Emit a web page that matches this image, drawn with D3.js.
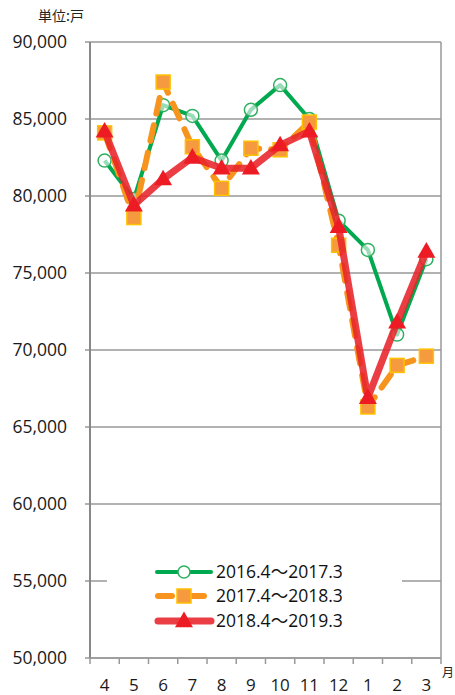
<!DOCTYPE html>
<html>
<head>
<meta charset="utf-8">
<script src="https://cdn.jsdelivr.net/npm/d3@7"></script>
<style>
  body { margin: 0; background: #fff; }
  svg { display: block; font-family: "Open Sans", "Noto Sans CJK JP", sans-serif; }
</style>
</head>
<body>
<div id="chart"></div>
<script>
var months = ["4", "5", "6", "7", "8", "9", "10", "11", "12", "1", "2", "3"];
var yTicks = [50000, 55000, 60000, 65000, 70000, 75000, 80000, 85000, 90000];
var seriesNames = ["2016.4～2017.3", "2017.4～2018.3", "2018.4～2019.3"];
var s2016 = [82300, 79800, 85900, 85200, 82300, 85600, 87200, 85000, 78400, 76500, 71000, 75900];
var s2017 = [84100, 78600, 87400, 83200, 80500, 83100, 83000, 84800, 76800, 66300, 69000, 69600];
var s2018 = [84200, 79400, 81100, 82500, 81800, 81800, 83300, 84200, 78000, 66900, 71800, 76400];

var width = 455, height = 695;
var plotLeft = 90, plotRight = 441, plotTop = 42, plotBottom = 658;

var svg = d3.select("#chart").append("svg")
  .attr("width", width)
  .attr("height", height);

var x = d3.scaleBand().domain(months).range([plotLeft, plotRight]);
var y = d3.scaleLinear().domain([50000, 90000]).range([plotBottom, plotTop]);

// gridlines + y labels
svg.append("g").selectAll("line")
  .data(yTicks)
  .enter().append("line")
  .attr("x1", plotLeft - 5).attr("x2", plotRight)
  .attr("y1", function(d) { return y(d); })
  .attr("y2", function(d) { return y(d); })
  .style("stroke", "#999")
  .style("stroke-width", 1.5);

svg.append("g").selectAll("text")
  .data(yTicks)
  .enter().append("text")
  .attr("x", 67)
  .attr("y", function(d) { return y(d) + 6; })
  .attr("text-anchor", "end")
  .style("font-size", "17.5px")
  .style("fill", "#1a1a1a")
  .text(function(d) { return d3.format(",")(d); });

// axes frame
svg.append("line").attr("x1", plotLeft).attr("x2", plotLeft).attr("y1", plotTop).attr("y2", plotBottom)
  .style("stroke", "#888").style("stroke-width", 2);
svg.append("line").attr("x1", plotRight).attr("x2", plotRight).attr("y1", plotTop).attr("y2", plotBottom)
  .style("stroke", "#999").style("stroke-width", 1.5);
svg.append("line").attr("x1", plotLeft).attr("x2", plotRight).attr("y1", plotBottom).attr("y2", plotBottom)
  .style("stroke", "#999").style("stroke-width", 1.5);

// x ticks between categories
var bounds = months.map(function(m) { return x(m); }).concat([plotRight]);
svg.append("g").selectAll("line")
  .data(bounds)
  .enter().append("line")
  .attr("x1", function(d) { return d; }).attr("x2", function(d) { return d; })
  .attr("y1", plotBottom).attr("y2", plotBottom + 6)
  .style("stroke", "#999").style("stroke-width", 1.5);

svg.append("g").selectAll("text")
  .data(months)
  .enter().append("text")
  .attr("x", function(d) { return x(d) + x.bandwidth() / 2; })
  .attr("y", 691)
  .attr("text-anchor", "middle")
  .style("font-size", "17px")
  .style("fill", "#1a1a1a")
  .text(function(d) { return d; });

svg.append("text").attr("x", 442).attr("y", 677)
  .style("font-size", "12px").style("fill", "#222")
  .style("font-family", "Noto Sans CJK JP")
  .text("月");

svg.append("text").attr("x", 38).attr("y", 21)
  .style("font-size", "14px").style("fill", "#222")
  .style("font-family", "Noto Sans CJK JP")
  .text("単位:戸");

var cx = function(d, i) { return x(months[i]) + x.bandwidth() / 2; };
var line = d3.line()
  .x(function(d, i) { return cx(d, i); })
  .y(function(d) { return y(d); });

var tri = d3.symbol().type(d3.symbolTriangle).size(140);

function drawGreen(g, data) {
  g.append("path").datum(data).attr("d", line)
    .style("fill", "none").style("stroke", "#00a84f").style("stroke-width", 4)
    .style("stroke-linejoin", "round");
  g.selectAll("circle").data(data).enter().append("circle")
    .attr("cx", cx).attr("cy", function(d) { return y(d); })
    .attr("r", 6.5)
    .style("fill", "rgba(255,255,255,0.6)")
    .style("stroke", "#2fb060").style("stroke-width", 1.5);
}

function drawOrange(g, data) {
  g.append("path").datum(data).attr("d", line)
    .style("fill", "none").style("stroke", "#f7941d").style("stroke-width", 6)
    .style("stroke-dasharray", "16,12").style("stroke-linecap", "round")
    .style("stroke-linejoin", "round");
  g.selectAll("rect").data(data).enter().append("rect")
    .attr("x", function(d, i) { return cx(d, i) - 7; })
    .attr("y", function(d) { return y(d) - 7; })
    .attr("width", 14).attr("height", 14)
    .style("fill", "#f59a3e").style("stroke", "#ffc000").style("stroke-width", 1.5);
}

function drawRed(g, data) {
  g.append("path").datum(data).attr("d", line)
    .style("fill", "none").style("stroke", "#e8232a").style("stroke-width", 7)
    .style("stroke-opacity", 0.88)
    .style("stroke-linejoin", "round");
  g.selectAll("path.m").data(data).enter().append("path")
    .attr("class", "m")
    .attr("d", tri)
    .attr("transform", function(d, i) { return "translate(" + cx(d, i) + "," + (y(d) + 1) + ")"; })
    .style("fill", "#ed1c24");
}

drawGreen(svg.append("g"), s2016);
drawOrange(svg.append("g"), s2017);
drawRed(svg.append("g"), s2018);

// legend
var legend = svg.append("g");
legend.append("rect").attr("x", 107).attr("y", 556).attr("width", 295).attr("height", 82)
  .style("fill", "#fff");

var rowsY = [572, 596, 621];
seriesNames.forEach(function(name, i) {
  var row = legend.append("g").attr("transform", "translate(0," + rowsY[i] + ")");
  if (i === 0) {
    row.append("line").attr("x1", 157).attr("x2", 211).attr("y1", 0).attr("y2", 0)
      .style("stroke", "#00a84f").style("stroke-width", 4).style("stroke-linecap", "round");
    row.append("circle").attr("cx", 184).attr("cy", 0).attr("r", 6)
      .style("fill", "#fff").style("stroke", "#2fb060").style("stroke-width", 1.5);
  } else if (i === 1) {
    row.append("line").attr("x1", 158).attr("x2", 204).attr("y1", 0).attr("y2", 0)
      .style("stroke", "#f7941d").style("stroke-width", 6).style("stroke-linecap", "round")
      .style("stroke-dasharray", "14,18");
    row.append("rect").attr("x", 177).attr("y", -7).attr("width", 14).attr("height", 14)
      .style("fill", "#f59a3e").style("stroke", "#ffc000").style("stroke-width", 1.5);
  } else {
    row.append("line").attr("x1", 158).attr("x2", 211).attr("y1", 0).attr("y2", 0)
      .style("stroke", "#e8232a").style("stroke-width", 7).style("stroke-opacity", 0.88)
      .style("stroke-linecap", "round");
    row.append("path").attr("d", tri).attr("transform", "translate(184,1)")
      .style("fill", "#ed1c24");
  }
  row.append("text").attr("x", 216).attr("y", 6)
    .style("font-size", "17.5px").style("fill", "#111")
    .text(name);
});
</script>
</body>
</html>
